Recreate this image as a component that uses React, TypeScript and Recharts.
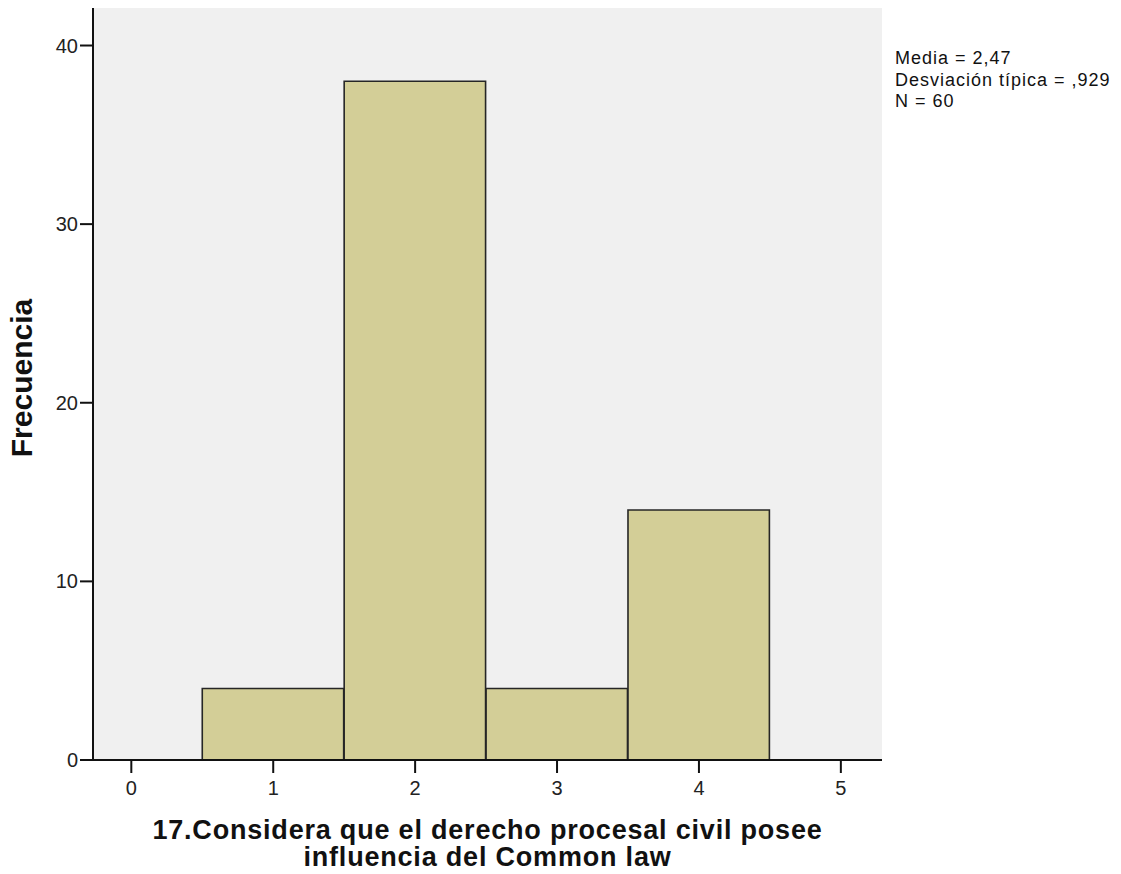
import React from 'react';
import { ComposedChart, Bar, XAxis, YAxis, CartesianGrid } from 'recharts';

// histogram bins (centre value -> frequency)
const categories = [1, 2, 3, 4];
const frequencies = [4, 38, 4, 14];
const xTicks = [0, 1, 2, 3, 4, 5];
const yTicks = [0, 10, 20, 30, 40];
const statsLines = ['Media = 2,47', 'Desviación típica = ,929', 'N = 60'];
const xTitleLines = ['17.Considera que el derecho procesal civil posee', 'influencia del Common law'];
const yTitle = 'Frecuencia';

const data = categories.map((c, i) => ({ value: c, count: frequencies[i] }));

const W = 1121;
const H = 874;
const MARGIN = { top: 8, right: 239, bottom: 0, left: 0 };
const Y_AXIS_W = 93;
const X_AXIS_H = 114;
const X_DOMAIN: [number, number] = [-0.27, 5.29];
const Y_DOMAIN: [number, number] = [0, 42.1];
const PLOT_W = W - MARGIN.left - MARGIN.right - Y_AXIS_W;
// one unit wide; a hair under the band so recharts doesn't shrink it to 90%
const BAR_W = PLOT_W / (X_DOMAIN[1] - X_DOMAIN[0]) - 0.5;

const FONT = '"Liberation Sans", Arial, sans-serif';

const XTitle = (props: any) => {
  const vb = props.viewBox;
  const cx = vb.x + vb.width / 2;
  return (
    <text textAnchor="middle" fontFamily={FONT} fontWeight="bold" fontSize={27} fill="#111" letterSpacing={0.8}>
      <tspan x={cx} y={vb.y + 79}>{xTitleLines[0]}</tspan>
      <tspan x={cx} y={vb.y + 106}>{xTitleLines[1]}</tspan>
    </text>
  );
};

const YTitle = () => (
  <text
    x={32}
    y={378}
    transform="rotate(-90, 32, 378)"
    textAnchor="middle"
    fontFamily={FONT}
    fontWeight="bold"
    fontSize={30}
    fill="#111"
  >
    {yTitle}
  </text>
);

export default function App() {
  const tickStyle = { fontFamily: FONT, fontSize: 20, fill: '#222' };
  return (
    <div style={{ position: 'absolute', left: 0, top: 0, width: W, height: H, background: '#fff' }}>
      <ComposedChart width={W} height={H} data={data} margin={MARGIN} barGap={0} barCategoryGap={0}>
        <CartesianGrid horizontal={false} vertical={false} fill="#f0f0f0" />
        <XAxis
          dataKey="value"
          type="number"
          domain={X_DOMAIN}
          ticks={xTicks}
          allowDataOverflow
          height={X_AXIS_H}
          tickSize={13}
          tickMargin={8}
          tick={tickStyle}
          axisLine={{ stroke: '#111', strokeWidth: 2 }}
          tickLine={{ stroke: '#111', strokeWidth: 2 }}
          label={{ content: XTitle }}
        />
        <XAxis
          xAxisId="top"
          orientation="top"
          type="number"
          domain={X_DOMAIN}
          allowDataOverflow
          height={0}
          tick={false}
          tickLine={false}
          axisLine={{ stroke: '#6a6a6a', strokeWidth: 2.5 }}
        />
        <YAxis
          type="number"
          domain={Y_DOMAIN}
          ticks={yTicks}
          allowDataOverflow
          width={Y_AXIS_W}
          tickSize={13}
          tickMargin={2}
          tick={tickStyle}
          axisLine={{ stroke: '#111', strokeWidth: 2 }}
          tickLine={{ stroke: '#111', strokeWidth: 2 }}
          label={{ content: YTitle }}
        />
        <YAxis
          yAxisId="right"
          orientation="right"
          type="number"
          domain={Y_DOMAIN}
          allowDataOverflow
          width={0}
          tick={false}
          tickLine={false}
          axisLine={{ stroke: '#6a6a6a', strokeWidth: 2.5 }}
        />
        <Bar
          dataKey="count"
          barSize={BAR_W}
          fill="#d3ce97"
          stroke="#262626"
          strokeWidth={1.6}
          isAnimationActive={false}
        />
      </ComposedChart>
      <div
        style={{
          position: 'absolute',
          left: 895,
          top: 48,
          fontFamily: FONT,
          fontSize: 18,
          lineHeight: '21.5px',
          letterSpacing: 1,
          color: '#111',
          whiteSpace: 'nowrap',
        }}
      >
        {statsLines.map((l) => (
          <div key={l}>{l}</div>
        ))}
      </div>
    </div>
  );
}
